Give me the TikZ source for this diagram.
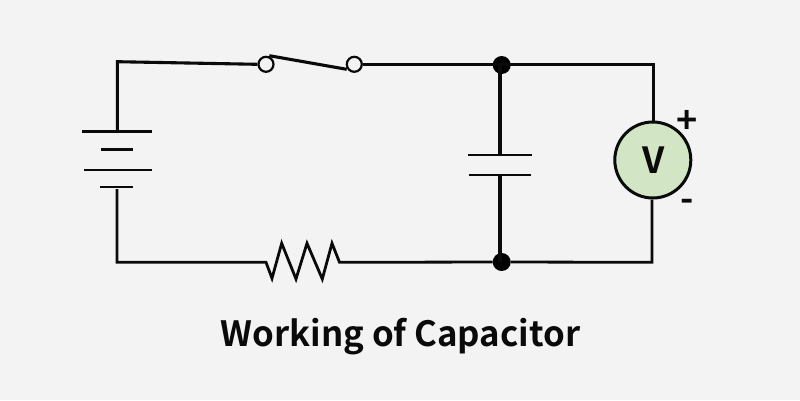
\documentclass[tikz,border=0pt]{standalone}
\usepackage{fontspec}
\newfontfamily\titlefont[BoldFont=* Bold]{Noto Sans CJK SC}
\definecolor{bgc}{HTML}{F3F3F3}
\definecolor{vfill}{HTML}{D2E6C6}
\definecolor{ink}{HTML}{0A0A0A}
\tikzset{
  wire/.style={draw=ink,line width=3.1pt,line join=miter,line cap=butt},
  thinwire/.style={draw=ink,line width=2.8pt,line join=miter,line cap=butt},
  plate/.style={draw=ink,line width=3.1pt},
  thinplate/.style={draw=ink,line width=2.4pt},
  terminal/.style={circle,draw=ink,fill=bgc,line width=2.2pt,minimum size=15pt,inner sep=0pt},
  junction/.style={circle,fill=black,minimum size=18pt,inner sep=0pt},
  meter/.style={circle,draw=ink,fill=vfill,line width=3pt,minimum size=76pt,inner sep=0pt,font=\titlefont\bfseries\fontsize{36}{36}\selectfont,text=ink},
  sign/.style={inner sep=0pt,text=ink,font=\titlefont\bfseries\fontsize{36}{36}\selectfont},
  caption/.style={inner sep=0pt,text=ink,anchor=base,font=\titlefont\bfseries\fontsize{34.8}{35}\selectfont}
}
\begin{document}
\begin{tikzpicture}[x=1pt,y=-1pt]
\path[use as bounding box,fill=bgc] (0,0) rectangle (800,400);
% named points
\coordinate (cornerTL) at (117.3,61.7);
\coordinate (batTop) at (117.3,131.3);
\coordinate (batBot) at (117,189);
\coordinate (cornerBL) at (117,262.3);
\coordinate (resL) at (266,262.3);
\coordinate (resR) at (339.5,262.3);
\coordinate (capTop) at (500,154.7);
\coordinate (capBot) at (500,175);
\coordinate (cornerTR) at (653.3,64.3);
\coordinate (cornerBR) at (652,262.3);
\coordinate (bladeA) at (269.3,55.7);
\coordinate (bladeB) at (346.7,69.3);
% battery plates
\coordinate (b1l) at (82,131.3); \coordinate (b1r) at (152,131.3);
\coordinate (b2l) at (101.3,149.3); \coordinate (b2r) at (133,149.3);
\coordinate (b3l) at (84,170); \coordinate (b3r) at (151.7,170);
\coordinate (b4l) at (100,186.7); \coordinate (b4r) at (133.3,186.7);
\draw[plate] (b1l) -- (b1r);
\draw[plate] (b2l) -- (b2r);
\draw[thinplate] (b3l) -- (b3r);
\draw[thinplate] (b4l) -- (b4r);
% capacitor plates
\coordinate (c1l) at (468,154.7); \coordinate (c1r) at (532,154.7);
\coordinate (c2l) at (469,175); \coordinate (c2r) at (531,175);
\draw[thinplate] (c1l) -- (c1r);
\draw[thinplate] (c2l) -- (c2r);
% components
\node[terminal] (swL) at (266,64.3) {};
\node[terminal] (swR) at (354.3,64.3) {};
\node[junction] (nodeT) at (501.7,65) {};
\node[junction] (nodeB) at (501.7,262) {};
\node[meter] (meterV) at (652.8,160) {\hspace{1pt}\raisebox{-1pt}{V}};
% wires
\draw[wire] (swL.west) -- (cornerTL) -- (batTop);
\draw[wire] (bladeA) -- (bladeB);
\draw[wire] (swR.east) -- (swR.east -| nodeT);
\draw[wire] (nodeT.center |- cornerTR) -- (cornerTR) -- (cornerTR |- meterV.north);
\draw[wire] (capTop) -- (capTop |- nodeT);
\draw[wire] (capBot) -- (capBot |- nodeB);
\draw[thinwire] (batBot) -- (cornerBL) -- (resL)
  -- (272,278.3) -- (281.7,243.3) -- (296,279) -- (307,243.3) -- (322.3,279) -- (332,243.3) -- (resR) -- (nodeB);
\draw[thinwire] (nodeB) -- (cornerBR) -- (cornerBR |- meterV.south);
\node[sign] (plus) at (687.3,122) {+};
\node[sign] (minus) at (687.3,205) {-};
\node[caption] (title) at (400.5,346.7) {Working of Capacitor};
\end{tikzpicture}
\end{document}
